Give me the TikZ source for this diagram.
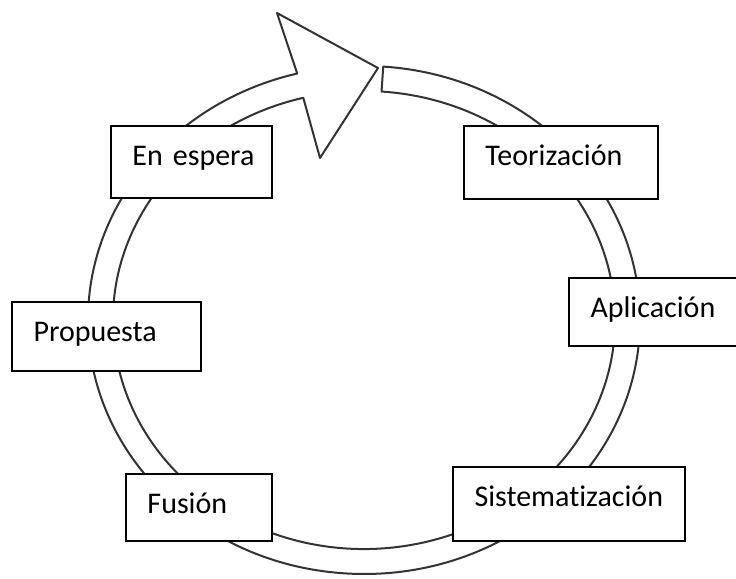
\documentclass[tikz,border=0pt]{standalone}
\usepackage{fontspec}
\setmainfont{Carlito}[Ligatures=NoCommon]
\begin{document}
\begin{tikzpicture}[x=0.5pt,y=-0.5pt,
  caja/.style 2 args={draw=black, fill=white, line width=1pt, anchor=north west,
    inner sep=0pt, text width=#1, text height=19.5pt, text depth=#2, align=left,
    execute at begin node=\hspace*{10.75pt},
    font=\fontsize{15pt}{18pt}\selectfont}]
\useasboundingbox (0,0) rectangle (736,579);
\clip (0,0) rectangle (736,579);
% anillo con la flecha
\draw[black!80, line width=1pt, line join=round, fill=white]
  (383.25,66.6) arc[start angle=-86, end angle=256, x radius=276, y radius=254]
  -- (277,13) -- (378,68) -- (320,158) -- (303.3,97.8)
  arc[start angle=256, end angle=-86, x radius=251, y radius=229] -- cycle;
% cajas
\node[caja={80.5pt}{16.5pt}] (espera) at (110,125) {En espera};
\node[caja={97pt}{17pt}] (teoria) at (463,125) {Teorización};
\node[caja={94.5pt}{15pt}] (propuesta) at (11,301) {Propuesta};
\node[caja={110pt}{14.5pt}] (aplicacion) at (568,277) {Aplicación};
\node[caja={73pt}{14pt}] (fusion) at (125,473) {Fusión};
\node[caja={116pt}{17.5pt}] (sistema) at (452,466) {Sistematización};
\end{tikzpicture}
\end{document}
